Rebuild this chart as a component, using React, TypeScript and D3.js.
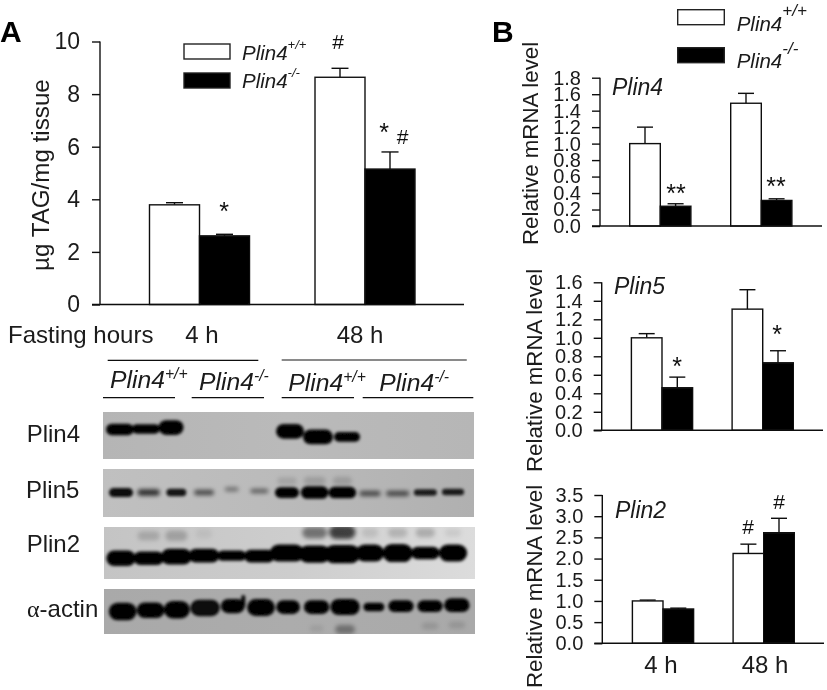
import React, { useEffect, useRef } from "react";
import * as d3 from "d3";

const FONT = "'Liberation Sans', Arial, sans-serif";
const hours = ["4 h", "48 h"];
const genotypes = ["wt", "ko"];

// bar heights and upper error limits, [4 h, 48 h]
const tagWt = [3.79, 8.64];
const tagWtErr = [3.87, 8.98];
const tagKo = [2.61, 5.15];
const tagKoErr = [2.67, 5.8];

const plin4Wt = [1.0, 1.49];
const plin4WtErr = [1.2, 1.61];
const plin4Ko = [0.24, 0.31];
const plin4KoErr = [0.27, 0.33];

const plin5Wt = [1.0, 1.31];
const plin5WtErr = [1.045, 1.52];
const plin5Ko = [0.46, 0.73];
const plin5KoErr = [0.575, 0.86];

const plin2Wt = [1.0, 2.12];
const plin2WtErr = [1.02, 2.34];
const plin2Ko = [0.81, 2.61];
const plin2KoErr = [0.83, 2.95];

const tagTicks = [0, 2, 4, 6, 8, 10];
const plin4Ticks = d3.range(0, 10).map((d) => d * 0.2);
const plin5Ticks = d3.range(0, 9).map((d) => d * 0.2);
const plin2Ticks = d3.range(0, 8).map((d) => d * 0.5);

// gel bands: [lane, migration %, width in lanes, thickness %, density]
type Band = [number, number, number, number, number];
const plin4Bands: Band[] = [
	[-0.04, 37, 1.0, 21, 1],
	[0.9, 36, 1.0, 17, 1],
	[1.81, 33, 0.9, 28, 1],
	[6.11, 41, 1.01, 28, 1],
	[7.12, 53, 1.08, 28, 1],
	[8.17, 53, 0.94, 17, 1],
];
const plin5Bands: Band[] = [
	[0, 49, 0.87, 15, 0.95],
	[1, 49, 0.8, 10, 0.75],
	[2, 49, 0.72, 12, 0.9],
	[3, 49, 0.72, 8, 0.6],
	[4, 42, 0.5, 6, 0.4],
	[5, 46, 0.65, 6, 0.5],
	[6, 49, 0.87, 19, 1],
	[7, 49, 1, 23, 1],
	[8, 49, 1, 21, 1],
	[9, 51, 0.76, 8, 0.6],
	[10, 51, 0.83, 8, 0.6],
	[11, 49, 0.83, 10, 0.85],
	[12, 48, 0.8, 10, 0.85],
	[6, 25, 0.7, 12, 0.12],
	[7, 25, 0.8, 14, 0.15],
	[8, 25, 0.7, 14, 0.15],
];
const plin2Bands: Band[] = [
	[0, 60, 1.06, 27, 1],
	[1, 60, 1.1, 23, 1],
	[2, 57, 1.1, 27, 1],
	[3, 55, 1.1, 23, 1],
	[4, 55, 1.04, 17, 1],
	[5, 56, 1.1, 21, 1],
	[6, 50, 1.24, 30, 1],
	[7, 52, 1.16, 30, 1],
	[8, 52, 1.3, 32, 1],
	[9, 50, 1.02, 30, 1],
	[10, 50, 1.08, 32, 1],
	[11, 50, 1.02, 21, 1],
	[12, 50, 1.02, 30, 1],
	[1, 17, 0.8, 15, 0.16],
	[2, 17, 0.8, 17, 0.2],
	[3, 13, 0.6, 15, 0.06],
	[7, 11, 0.9, 19, 0.45],
	[8, 10, 0.95, 23, 0.7],
	[9, 11, 0.6, 15, 0.1],
	[10, 11, 0.7, 15, 0.16],
	[11, 11, 0.7, 15, 0.2],
	[12, 11, 0.6, 13, 0.07],
];
const actinBands: Band[] = [
	[0.06, 50, 1.0, 35, 1],
	[1.07, 47, 1.0, 31, 1],
	[2.02, 46, 0.94, 35, 1],
	[3.04, 42, 1.06, 33, 0.95],
	[4.04, 38, 0.86, 28, 1],
	[4.42, 27, 0.14, 24, 1],
	[5.06, 41, 1.0, 34, 1],
	[6.04, 40, 0.86, 27, 1],
	[7.07, 40, 0.92, 27, 1],
	[8.1, 40, 1.06, 32, 1],
	[9.14, 40, 0.76, 15, 1],
	[10.12, 38, 0.92, 23, 1],
	[11.17, 38, 0.92, 23, 1],
	[12.14, 36, 0.92, 27, 1],
	[7.07, 88, 0.5, 12, 0.08],
	[8.1, 90, 0.72, 16, 0.35],
	[11.17, 82, 0.6, 12, 0.12],
	[12.14, 80, 0.6, 12, 0.12],
];

type Note = { text: string; hour: number; offset: number; value: number };
const tagNotes: Note[] = [
	{ text: "*", hour: 0, offset: 0.49, value: 3.21 },
	{ text: "#", hour: 1, offset: -0.54, value: 9.7 },
	{ text: "*", hour: 1, offset: 0.38, value: 6.22 },
	{ text: "#", hour: 1, offset: 0.75, value: 6.1 },
];
const plin4Notes: Note[] = [
	{ text: "**", hour: 0, offset: 0.51, value: 0.295 },
	{ text: "**", hour: 1, offset: 0.48, value: 0.382 },
];
const plin5Notes: Note[] = [
	{ text: "*", hour: 0, offset: 0.49, value: 0.603 },
	{ text: "*", hour: 1, offset: 0.47, value: 0.949 },
];
const plin2Notes: Note[] = [
	{ text: "#", hour: 1, offset: -0.51, value: 2.59 },
	{ text: "#", hour: 1, offset: 0.5, value: 3.165 },
];

function drawBars(svg: any, o: any) {
	const y = d3.scaleLinear().domain(o.domain).range([o.bottom, o.top]);
	const x = d3.scalePoint().domain(hours).range(o.centers);
	const g = svg.append("g");

	genotypes.forEach((name, s) => {
		const vals = s === 0 ? o.wt : o.ko;
		const errs = s === 0 ? o.wtErr : o.koErr;
		const left = (h: string) => (x(h) as number) + (s === 0 ? -o.barW : 0);
		const mid = (h: string) => left(h) + o.barW / 2;
		// whiskers go behind the bars
		hours.forEach((h, i) => {
			g.append("line")
				.attr("x1", mid(h))
				.attr("x2", mid(h))
				.attr("y1", y(vals[i]))
				.attr("y2", y(errs[i]))
				.attr("stroke", "#111")
				.attr("stroke-width", o.sw);
			g.append("line")
				.attr("x1", mid(h) - o.cap / 2)
				.attr("x2", mid(h) + o.cap / 2)
				.attr("y1", y(errs[i]))
				.attr("y2", y(errs[i]))
				.attr("stroke", "#111")
				.attr("stroke-width", o.sw);
		});
		g.selectAll("rect." + name)
			.data(vals)
			.enter()
			.append("rect")
			.attr("class", name)
			.attr("x", (_: any, i: number) => left(hours[i]))
			.attr("y", (d: number) => y(d))
			.attr("width", o.barW)
			.attr("height", (d: number) => o.bottom - y(d))
			.attr("fill", s === 0 ? "#fff" : "#000")
			.attr("stroke", "#111")
			.attr("stroke-width", o.sw);
	});

	const axis = d3
		.axisLeft(y)
		.tickValues(o.ticks)
		.tickSize(o.tick)
		.tickPadding(o.pad)
		.tickFormat(d3.format(o.fmt));
	const ag = svg.append("g").attr("transform", `translate(${o.axisX},0)`).call(axis);
	ag.select(".domain").attr("stroke", "#111").attr("stroke-width", o.sw).attr("d", `M0,${o.top}V${o.bottom}`);
	ag.selectAll(".tick line").attr("stroke", "#111").attr("stroke-width", o.sw);
	ag.selectAll("text")
		.attr("font-family", FONT)
		.attr("font-size", o.tickFont)
		.attr("fill", "#1a1a1a");

	svg.append("line")
		.attr("x1", o.axisX - o.tick)
		.attr("x2", o.baseEnd)
		.attr("y1", o.bottom)
		.attr("y2", o.bottom)
		.attr("stroke", "#111")
		.attr("stroke-width", o.sw);

	svg.append("text")
		.attr("transform", `translate(${o.titleX},${o.titleY}) rotate(-90)`)
		.attr("font-family", FONT)
		.attr("font-size", o.titleFont)
		.attr("fill", "#1a1a1a")
		.text(o.title);

	if (o.gene) {
		svg.append("text")
			.attr("x", o.geneX)
			.attr("y", o.geneY)
			.attr("font-family", FONT)
			.attr("font-style", "italic")
			.attr("font-size", 23)
			.attr("fill", "#1a1a1a")
			.text(o.gene);
	}

	svg.append("g")
		.selectAll("text")
		.data(o.notes)
		.enter()
		.append("text")
		.attr("x", (d: Note) => (x(hours[d.hour]) as number) + d.offset * o.barW)
		.attr("y", (d: Note) => y(d.value))
		.attr("text-anchor", "middle")
		.attr("font-family", FONT)
		.attr("font-size", (d: Note) => (d.text[0] === "#" ? 21 : 25))
		.attr("fill", "#111")
		.text((d: Note) => d.text);
}

function legend(svg: any, x: number, ys: number[], w: number, h: number, tx: number, font: number, sup: number, rise: number[], baseY: number[]) {
	["+/+", "-/-"].forEach((tag, i) => {
		svg.append("rect")
			.attr("x", x)
			.attr("y", ys[i])
			.attr("width", w)
			.attr("height", h)
			.attr("fill", i === 0 ? "#fff" : "#000")
			.attr("stroke", "#222")
			.attr("stroke-width", 1.4);
		genotype(svg, tx, baseY[i], font, sup, rise[i], tag);
	});
}

function genotype(svg: any, x: number, y: number, font: number, sup: number, rise: number, tag: string) {
	const t = svg
		.append("text")
		.attr("x", x)
		.attr("y", y)
		.attr("font-family", FONT)
		.attr("font-style", "italic")
		.attr("font-size", font)
		.attr("fill", "#1a1a1a");
	t.append("tspan").text("Plin4");
	t.append("tspan").attr("font-size", sup).attr("dy", -rise).text(tag);
}

function drawBlot(svg: any, defs: any, o: any) {
	const lane = d3.scaleLinear().domain([0, 12]).range([121, 453]);
	const laneW = lane(1) - lane(0);
	const mig = d3.scaleLinear().domain([0, 100]).range([o.top, o.bottom]);
	const pct = (o.bottom - o.top) / 100;
	const thick = (d: Band) => d[3] * pct + 1.6;

	const grad = defs.append("linearGradient").attr("id", o.id);
	grad.selectAll("stop")
		.data(o.shades)
		.enter()
		.append("stop")
		.attr("offset", (_: any, i: number) => i / (o.shades.length - 1))
		.attr("stop-color", (d: string) => d);

	svg.append("rect")
		.attr("x", o.x0)
		.attr("y", o.top)
		.attr("width", o.x1 - o.x0)
		.attr("height", o.bottom - o.top)
		.attr("fill", `url(#${o.id})`);

	// clip so the blur stays on the membrane
	defs.append("clipPath")
		.attr("id", o.id + "c")
		.append("rect")
		.attr("x", o.x0)
		.attr("y", o.top)
		.attr("width", o.x1 - o.x0)
		.attr("height", o.bottom - o.top);

	const clip = svg.append("g").attr("clip-path", `url(#${o.id}c)`);
	// faint bands are more diffuse than the strong ones
	[
		{ bands: o.bands.filter((d: Band) => d[4] < 0.8), filter: "softBlur" },
		{ bands: o.bands.filter((d: Band) => d[4] >= 0.8), filter: "bandBlur" },
	].forEach((layer) => {
		clip.append("g")
			.attr("filter", `url(#${layer.filter})`)
			.selectAll("rect")
			.data(layer.bands)
			.enter()
			.append("rect")
			.attr("x", (d: Band) => lane(d[0]) - (d[2] * laneW) / 2)
			.attr("y", (d: Band) => mig(d[1]) - thick(d) / 2)
			.attr("width", (d: Band) => d[2] * laneW)
			.attr("height", thick)
			.attr("rx", (d: Band) => Math.min(d[2] * laneW, thick(d)) / 2)
			.attr("fill", "#050505")
			.attr("fill-opacity", (d: Band) => d[4]);
	});

	svg.append("text")
		.attr("x", o.labelX)
		.attr("y", o.labelY)
		.attr("font-family", FONT)
		.attr("font-size", 24)
		.attr("fill", "#1a1a1a")
		.text(o.label);
}

export default function App() {
	const ref = useRef<SVGSVGElement>(null);

	useEffect(() => {
		const root = d3.select(ref.current);
		root.selectAll("*").remove();
		const defs = root.append("defs");
		const addBlur = (id: string, sd: number) =>
			defs.append("filter")
				.attr("id", id)
				.attr("x", "-10%")
				.attr("y", "-20%")
				.attr("width", "120%")
				.attr("height", "140%")
				.append("feGaussianBlur")
				.attr("stdDeviation", sd);
		addBlur("bandBlur", 1.5);
		addBlur("softBlur", 2);
		// the source is a soft scanned figure
		defs.append("filter")
			.attr("id", "soft")
			.attr("filterUnits", "userSpaceOnUse")
			.attr("x", 0)
			.attr("y", 0)
			.attr("width", 827)
			.attr("height", 690)
			.append("feGaussianBlur")
			.attr("stdDeviation", 0.35);
		const svg = root.append("g").attr("filter", "url(#soft)");

		const letter = (t: string, x: number) =>
			svg.append("text")
				.attr("x", x)
				.attr("y", 41.5)
				.attr("font-family", FONT)
				.attr("font-weight", "bold")
				.attr("font-size", 30)
				.attr("fill", "#000")
				.text(t);
		letter("A", 0);
		letter("B", 492);

		drawBars(svg, {
			domain: [0, 10], top: 41.5, bottom: 304.5, centers: [199.5, 365], barW: 50, cap: 17, sw: 1.4,
			wt: tagWt, wtErr: tagWtErr, ko: tagKo, koErr: tagKoErr, ticks: tagTicks, fmt: "d", tick: 8, pad: 12,
			tickFont: 23, axisX: 100, baseEnd: 464, title: "µg TAG/mg tissue", titleX: 49, titleY: 271, titleFont: 24.2,
			notes: tagNotes,
		});
		legend(svg, 184, [44, 73], 46, 15, 242, 20.5, 13, [11, 11], [60, 88]);

		const bCommon = { barW: 30.6, cap: 16, sw: 1.4, tick: 8, pad: 11, tickFont: 20, fmt: ".1f", titleFont: 22.3 };
		drawBars(svg, {
			...bCommon, domain: [0, 1.8], top: 77.7, bottom: 226, centers: [660.3, 761.3],
			wt: plin4Wt, wtErr: plin4WtErr, ko: plin4Ko, koErr: plin4KoErr, ticks: plin4Ticks,
			axisX: 600, baseEnd: 822, title: "Relative mRNA level", titleX: 538, titleY: 245,
			gene: "Plin4", geneX: 612, geneY: 95, notes: plin4Notes,
		});
		drawBars(svg, {
			...bCommon, domain: [0, 1.6], top: 282.3, bottom: 430.3, centers: [662, 762.7],
			wt: plin5Wt, wtErr: plin5WtErr, ko: plin5Ko, koErr: plin5KoErr, ticks: plin5Ticks,
			axisX: 601.7, baseEnd: 823, title: "Relative mRNA level", titleX: 541.7, titleY: 472,
			gene: "Plin5", geneX: 614, geneY: 294, notes: plin5Notes,
		});
		drawBars(svg, {
			...bCommon, domain: [0, 3.5], top: 495, bottom: 643.3, centers: [663, 763.7],
			wt: plin2Wt, wtErr: plin2WtErr, ko: plin2Ko, koErr: plin2KoErr, ticks: plin2Ticks,
			axisX: 602.3, baseEnd: 824, title: "Relative mRNA level", titleX: 541.7, titleY: 688,
			gene: "Plin2", geneX: 615, geneY: 518, notes: plin2Notes,
		});
		legend(svg, 677.7, [9.7, 47.7], 46.6, 15, 736.7, 20.5, 17, [15, 14], [30.7, 68.3]);

		const label = (t: string, x: number, y: number, size: number, anchor = "start") =>
			svg.append("text")
				.attr("x", x)
				.attr("y", y)
				.attr("text-anchor", anchor)
				.attr("font-family", FONT)
				.attr("font-size", size)
				.attr("fill", "#1a1a1a")
				.text(t);
		label("Fasting hours", 8, 343, 24);
		label(hours[0], 202, 343, 24, "middle");
		label(hours[1], 360, 343, 24, "middle");
		label(hours[0], 661, 673, 24, "middle");
		label(hours[1], 765, 673, 24, "middle");

		// brackets over the western blot
		[
			[107.7, 258.3, 360.3],
			[281.7, 466.7, 360],
			[103, 175, 397.7],
			[191.7, 264, 397.7],
			[281.7, 354, 397.7],
			[362.7, 473.3, 397.7],
		].forEach(([a, b, y]) =>
			svg.append("line")
				.attr("x1", a)
				.attr("x2", b)
				.attr("y1", y)
				.attr("y2", y)
				.attr("stroke", "#111")
				.attr("stroke-width", 1.2),
		);
		genotype(svg, 110, 388, 24.7, 15.7, 9, "+/+");
		genotype(svg, 199, 390, 24.7, 15.7, 9, "-/-");
		genotype(svg, 288.3, 391, 24.7, 15.7, 9, "+/+");
		genotype(svg, 379.3, 391, 24.7, 15.7, 9, "-/-");

		drawBlot(svg, defs, { id: "b4", top: 412, bottom: 459, x0: 103, x1: 474, bands: plin4Bands, shades: ["#b5b5b5", "#bababa", "#b6b6b6"], label: "Plin4", labelX: 26.7, labelY: 441.7 });
		drawBlot(svg, defs, { id: "b5", top: 469, bottom: 517, x0: 103, x1: 474, bands: plin5Bands, shades: ["#c0c0c0", "#bababa", "#b0b0b0"], label: "Plin5", labelX: 26, labelY: 497.7 });
		drawBlot(svg, defs, { id: "b2", top: 527, bottom: 579, x0: 104, x1: 475, bands: plin2Bands, shades: ["#c4c4c4", "#cdcdcd", "#dcdcdc"], label: "Plin2", labelX: 26.7, labelY: 551.7 });
		drawBlot(svg, defs, { id: "ba", top: 589, bottom: 634, x0: 104, x1: 475, bands: actinBands, shades: ["#a9a9a9", "#acacac", "#a9a9a9"], label: "", labelX: 0, labelY: 0 });

		const actin = svg.append("text")
			.attr("x", 27)
			.attr("y", 616.7)
			.attr("font-family", FONT)
			.attr("font-size", 24)
			.attr("fill", "#1a1a1a");
		actin.append("tspan").attr("font-family", "'Liberation Serif', serif").text("α");
		actin.append("tspan").text("-actin");
	}, []);

	return (
		<svg
			ref={ref}
			width={827}
			height={690}
			style={{ position: "absolute", left: 0, top: 0, background: "#fff" }}
		/>
	);
}
